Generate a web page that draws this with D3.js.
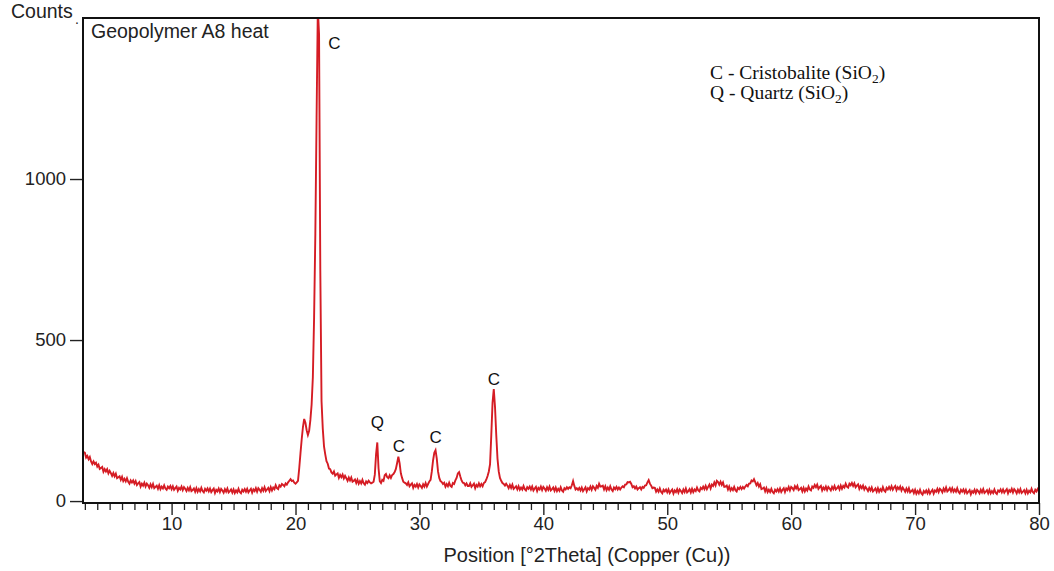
<!DOCTYPE html>
<html><head><meta charset="utf-8">
<script src="https://cdn.jsdelivr.net/npm/d3@7"></script>
<style>html,body{margin:0;padding:0;background:#fff;} svg{display:block;}</style>
</head><body><svg id="chart" width="1054" height="571"></svg>
<script>
// XRD pattern: counts sampled every 0.1 deg 2Theta, starting at 2.9
const startAngle = 2.9;
const stepAngle = 0.1;
const counts = [
152,
150,135,140,130,137,123,115,123,115,119,
107,113,100,103,106,91,99,92,99,86,
94,87,78,87,77,85,71,74,77,66,
75,62,69,61,71,60,54,64,58,64,
54,62,50,55,59,45,54,48,57,45,
54,49,41,52,43,53,40,44,48,38,
49,37,45,39,49,39,35,45,40,47,
37,46,35,40,45,32,41,36,45,34,
43,38,31,41,33,43,31,34,39,29,
40,29,37,30,41,31,27,38,32,39,
30,39,28,34,39,25,35,30,39,28,
38,33,26,37,29,39,27,31,36,26,
36,25,33,27,38,28,24,35,30,37,
29,38,27,33,38,26,36,31,40,29,
40,35,29,40,32,43,31,36,41,31,
43,33,42,37,49,40,37,49,45,53,
50,46,55,51,58,63,68,62,64,57,
54,58,63,102,148,192,230,255,243,220,
205,218,252,300,385,570,830,1190,1530,1450,
720,310,225,170,145,124,116,101,99,89,
85,92,79,83,86,72,81,74,82,70,
78,71,63,73,64,73,60,63,67,56,
66,54,62,55,66,55,51,61,56,63,
58,55,57,60,82,145,182,102,62,56,
66,63,80,84,74,71,80,72,81,84,
90,100,118,138,118,86,72,60,57,55,
50,58,46,51,55,41,50,45,53,42,
52,47,41,52,45,56,45,53,61,66,
92,126,150,158,132,92,72,62,59,53,
57,45,53,46,57,47,44,56,53,64,
72,86,90,76,64,57,56,49,55,47,
47,55,44,49,54,40,50,45,55,46,
53,46,56,59,67,78,92,115,205,305,
348,292,205,132,92,72,63,56,53,48,
54,48,40,50,41,51,38,42,46,36,
46,35,42,36,47,37,33,43,38,45,
36,45,33,39,44,31,41,36,45,34,
44,39,32,43,35,45,33,37,42,32,
42,31,38,32,43,33,29,40,36,43,
38,43,40,49,62,47,36,40,35,41,
33,42,31,37,43,30,40,36,45,35,
46,41,35,47,41,54,45,46,48,36,
46,34,42,35,46,36,31,42,37,44,
36,42,36,42,46,43,51,52,59,58,
60,53,43,46,39,45,36,40,43,36,
44,41,48,49,58,65,54,48,40,42,
41,29,36,29,39,29,24,35,30,36,
27,36,25,31,36,23,33,28,37,26,
36,31,25,36,28,39,27,31,37,27,
38,28,36,31,42,33,30,41,37,45,
37,47,37,44,51,39,51,47,58,49,
63,59,51,60,50,58,44,45,48,36,
45,33,40,34,44,34,30,41,37,44,
37,44,39,45,50,46,54,55,64,61,
68,59,49,56,45,52,37,39,42,30,
40,28,35,28,38,28,24,35,30,37,
29,39,28,35,40,28,39,34,44,33,
44,40,34,46,39,47,34,37,41,30,
41,30,39,33,45,36,33,45,41,50,
43,51,38,43,47,33,42,36,45,34,
44,39,33,44,37,47,36,40,46,36,
48,38,47,42,54,45,42,54,49,56,
47,55,43,48,52,38,47,40,48,36,
44,38,31,41,33,42,30,34,39,29,
40,29,37,31,43,33,29,41,36,44,
36,46,35,42,47,34,43,37,45,33,
42,36,29,39,30,40,27,31,35,25,
35,23,31,24,35,24,20,31,26,33,
24,34,23,30,35,23,33,29,38,28,
38,34,27,39,31,42,30,34,40,30,
40,29,36,29,40,29,24,35,29,36,
26,35,24,29,34,21,31,26,35,25,
35,30,24,35,27,37,25,29,34,24,
35,24,31,25,36,26,22,33,29,36,
27,36,26,32,37,24,34,29,38,27,
37,32,24,35,27,37,25,29,34,24,
35,24,32,27,38,28,24,35,30,38,
32
];
const xTicks = [10, 20, 30, 40, 50, 60, 70, 80];
const xMinorTicks = d3.range(3, 81, 1);
const yTicks = [0, 500, 1000];
const peakLabels = ["C", "Q", "C", "C", "C"];
const peakAngles = [21.85, 26.6, 28.35, 31.3, 36.0];
const labelLevels = [1405, 227, 152, 180, 360];
const legendNames = ["C - Cristobalite (SiO", "Q - Quartz (SiO"];
const titleText = "Geopolymer A8 heat";
const yTitle = "Counts";
const xTitle = "Position [°2Theta] (Copper (Cu))";

const svg = d3.select("#chart");
const L = 83, R = 1039, T = 18, B = 503;
const x = d3.scaleLinear().domain([2.85, 80]).range([L, R]);
const y = d3.scaleLinear().domain([-6, 1500]).range([B, T]);
const sans = "Arial, 'Liberation Sans', Helvetica, sans-serif";
const serif = "'Times New Roman', 'Liberation Serif', serif";
const ink = "#222";

const data = counts.map((c, i) => ({a: startAngle + i * stepAngle, c}));

svg.append("defs").append("clipPath").attr("id", "clip")
  .append("rect").attr("x", L).attr("y", T).attr("width", R - L).attr("height", B - T);

// minor x ticks
svg.append("g").attr("transform", `translate(0,${B})`)
  .call(d3.axisBottom(x).tickValues(xMinorTicks.filter(v => v % 10 !== 0)).tickSize(7).tickFormat(""))
  .call(g => g.select(".domain").remove())
  .call(g => g.selectAll("line").attr("stroke", ink).attr("stroke-width", 1.3));

// major x ticks
svg.append("g").attr("transform", `translate(0,${B})`)
  .call(d3.axisBottom(x).tickValues(xTicks).tickSize(12).tickPadding(2).tickFormat(d3.format("d")))
  .call(g => g.select(".domain").remove())
  .call(g => g.selectAll("line").attr("stroke", ink).attr("stroke-width", 1.4))
  .call(g => g.selectAll("text").attr("fill", ink).attr("font-family", sans).attr("font-size", "18.5px"));

// y ticks
svg.append("g").attr("transform", `translate(${L},0)`)
  .call(d3.axisLeft(y).tickValues(yTicks).tickSize(13).tickPadding(4).tickFormat(d3.format("d")))
  .call(g => g.select(".domain").remove())
  .call(g => g.selectAll("line").attr("stroke", ink).attr("stroke-width", 1.4))
  .call(g => g.selectAll("text").attr("fill", ink).attr("font-family", sans).attr("font-size", "18.5px"));

// data line
const line = d3.line().x(d => x(d.a)).y(d => y(d.c));
svg.append("path").datum(data)
  .attr("clip-path", "url(#clip)")
  .attr("fill", "none")
  .attr("stroke", "#d51c24")
  .attr("stroke-width", 1.9)
  .attr("stroke-linejoin", "miter")
  .attr("d", line);

// frame
svg.append("rect").attr("x", L).attr("y", T).attr("width", R - L).attr("height", B - T)
  .attr("fill", "none").attr("stroke", "#111").attr("stroke-width", 2);

// texts
svg.append("text").attr("x", 11).attr("y", 17.5).attr("font-family", sans).attr("font-size", "19.5px")
  .attr("fill", ink).text(yTitle);
svg.append("text").attr("x", 75).attr("y", 24).attr("font-family", sans).attr("font-size", "14px")
  .attr("fill", ink).text(".");
svg.append("text").attr("x", 91).attr("y", 37.5).attr("font-family", sans).attr("font-size", "19.5px")
  .attr("fill", ink).text(titleText);
svg.append("text").attr("x", 587).attr("y", 562).attr("text-anchor", "middle")
  .attr("font-family", sans).attr("font-size", "20px").attr("fill", ink).text(xTitle);

// peak labels
svg.append("g").selectAll("text").data(peakLabels).join("text")
  .attr("x", (d, i) => x(peakAngles[i]) + (i === 0 ? 16 : 0))
  .attr("y", (d, i) => y(labelLevels[i]))
  .attr("text-anchor", "middle")
  .attr("font-family", sans).attr("font-size", "17px").attr("fill", "#111")
  .text(d => d);

// legend
const leg = svg.append("g");
legendNames.forEach((n, i) => {
  const t = leg.append("text").attr("x", 710).attr("y", 79 + i * 20)
    .attr("font-family", serif).attr("font-size", "19.5px").attr("fill", "#111");
  t.append("tspan").text(n);
  t.append("tspan").attr("font-size", "13.5px").attr("dy", 4).text("2");
  t.append("tspan").attr("dy", -4).text(")");
});
</script>
</body></html>
